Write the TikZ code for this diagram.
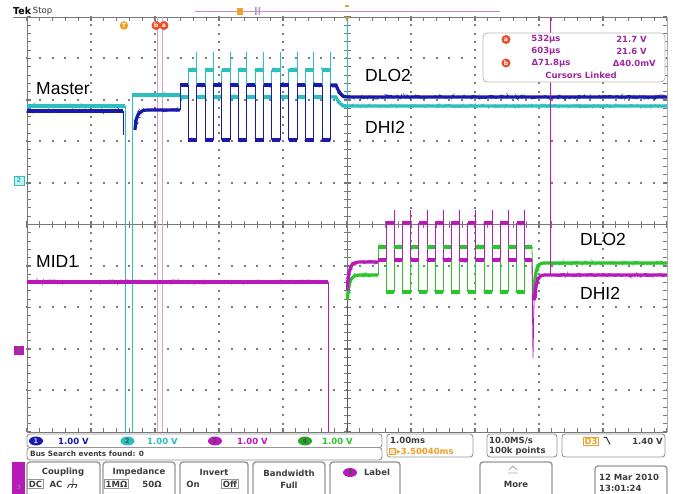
\documentclass[tikz,border=0pt]{standalone}
\usepackage{fontspec}
\setmainfont{Liberation Sans}
\newfontfamily\tekf{DejaVu Sans}
\usetikzlibrary{shapes.geometric,decorations.pathmorphing}
\definecolor{chA}{RGB}{25,25,170}
\definecolor{chB}{RGB}{45,190,190}
\definecolor{chC}{RGB}{185,25,185}
\definecolor{chD}{RGB}{45,195,45}
\definecolor{tekor}{RGB}{240,160,40}
\definecolor{tekred}{RGB}{232,80,40}
\definecolor{curp}{RGB}{215,155,215}
\definecolor{gridc}{RGB}{120,120,120}
\definecolor{dotc}{RGB}{125,125,125}
\definecolor{rdp}{RGB}{160,40,160}
\definecolor{btng}{RGB}{150,150,150}
\definecolor{txtg}{RGB}{60,60,60}
\newcommand\trc[2]{\draw[band,#1] #2; \draw[noise,#1] #2;}
\begin{document}
\begin{tikzpicture}[x=1pt,y=-1pt,
  band/.style={line width=3.2pt},
  noise/.style={line width=0.7pt,decorate,decoration={random steps,segment length=1.3pt,amplitude=2.1pt}},
  fine/.style={line width=0.8pt},
  lbl/.style={font=\fontsize{17.5}{18}\selectfont,anchor=west,inner sep=0pt},
  tb/.style={font=\tekf\bfseries\fontsize{8.5}{9}\selectfont,inner sep=0pt},
  bt/.style={font=\tekf\bfseries\fontsize{8.5}{9}\selectfont,inner sep=0pt,text=txtg},
  box/.style={draw=btng,line width=0.9pt,rounded corners=3pt,fill=white},
  btn/.style={draw=btng,line width=1.4pt,rounded corners=3pt,fill=white},
  mk/.style={circle,fill=tekred,text=white,inner sep=0pt,minimum size=9pt,font=\tekf\bfseries\fontsize{6}{6}\selectfont},
  oval/.style={ellipse,inner sep=0pt,minimum width=14pt,minimum height=9pt,font=\tekf\bfseries\fontsize{6.5}{7}\selectfont,text=black!70},
  dotv/.style={dotc,line width=2pt,dash pattern=on 2pt off 6.3pt},
  doth/.style={dotc,line width=2pt,dash pattern=on 2pt off 10.8pt},
  tickv/.style={gridc,dash pattern=on 1.1pt off 7.2pt},
  tickh/.style={gridc,dash pattern=on 1.1pt off 11.7pt},
]
\pgfmathsetseed{7}
\useasboundingbox (0,0) rectangle (673,494);
\fill[white] (0,0) rectangle (673,494);

% ---------------- graticule (loop-free) ----------------
\draw[dotv] (91,16) -- (91,432) (155,16) -- (155,432) (219,16) -- (219,432) (283,16) -- (283,432)
            (411,16) -- (411,432) (475,16) -- (475,432) (539,16) -- (539,432) (603,16) -- (603,432);
\draw[doth] (26,58.5) -- (667,58.5) (26,100) -- (667,100) (26,141.5) -- (667,141.5) (26,183) -- (667,183)
            (26,266) -- (667,266) (26,307.5) -- (667,307.5) (26,349) -- (667,349) (26,390.5) -- (667,390.5);
\draw[gridc,line width=0.8pt] (347,17) -- (347,432);
\draw[gridc,line width=0.8pt] (27,224.5) -- (667,224.5);
\draw[tickv,line width=7pt] (347,16.45) -- (347,433);
\draw[tickh,line width=7pt] (26.45,224.5) -- (668,224.5);
\draw[tickv,line width=4pt] (29,16.45) -- (29,433);
\draw[tickv,line width=4pt] (665,16.45) -- (665,433);
\draw[tickh,line width=4pt] (26.45,19) -- (668,19);
\draw[tickh,line width=4pt] (26.45,430) -- (668,430);
\draw[gridc,line width=0.9pt] (13,17) -- (667,17);
\draw[gridc,line width=0.9pt] (27,17) -- (27,432) -- (667,432);
\draw[gridc!60,line width=0.6pt] (667,17) -- (667,432);

% ---------------- header ----------------
\node[anchor=west,inner sep=0pt,font=\tekf\bfseries\fontsize{9.5}{10}\selectfont] (tek) at (13,11) {Tek};
\node[anchor=west,inner sep=0pt,font=\tekf\fontsize{8.5}{9}\selectfont,text=black!80] (stop) at (tek.east) {\,Stop};
\draw[curp!90!black,line width=0.7pt] (195,11.5) -- (500,11.5);
\fill[tekor] (237,8.5) rectangle (243,15.5);
\fill[curp!90!black] (255,7) rectangle (256.5,15) (258.5,7) rectangle (260,15);
\fill[tekor] (345,5.5) rectangle (349,7);
\fill[tekor] (344,17) -- (350,17) -- (347,21) -- cycle;
\node[circle,fill=tekor,inner sep=0pt,minimum size=8.5pt,text=white,font=\tekf\bfseries\fontsize{5.5}{6}\selectfont] (ctrig) at (124,25.5) {T};

% cursors
\draw[curp,line width=0.9pt] (157,17) -- (157,432);
\draw[curp,line width=0.9pt] (162,17) -- (162,432);
\node[mk] (cb) at (156,25.5) {b};
\node[mk] (ca) at (164,25.5) {a};

% ---------------- CH2 cyan (top) ----------------
\trc{chB}{(27,106) -- (125,106)}
\draw[fine,chB] (125,106) -- (125,432);
\draw[fine,chB] (132,432) -- (132,95);
\trc{chB}{(132,95) -- (180,95)}
\draw[fine,chB] (180,95) -- (180,97);
\foreach \k in {0,...,8} {
  \pgfmathsetmacro\a{180+16.7*\k}
  \pgfmathsetmacro\b{\a+8.35}
  \pgfmathsetmacro\c{\a+16.7}
  \trc{chB}{(\a,97) -- (\b,97)}
  \trc{chB}{(\b,70) -- (\c,70)}
  \draw[fine,chB] (\b,97) -- (\b,70);
  \draw[fine,chB] (\c,52) -- (\c,97);
}
\trc{chB}{(330.3,97) -- (336,97) .. controls (339,104) and (342,106) .. (347,106) -- (667,106)}
\draw[fine,chB] (347,106) -- (347,17);

% ---------------- CH1 blue (top) ----------------
\trc{chA}{(27,111) -- (123,111)}
\draw[fine,chA] (123,111) -- (123,135);
\trc{chA}{(135,130) .. controls (136,114) and (139,110) .. (148,110) -- (180,110)}
\draw[fine,chA] (180,110) -- (180,85);
\foreach \k in {0,...,8} {
  \pgfmathsetmacro\a{180+16.7*\k}
  \pgfmathsetmacro\b{\a+8.35}
  \pgfmathsetmacro\c{\a+16.7}
  \trc{chA}{(\a,85) -- (\b,85)}
  \trc{chA}{(\b,140) -- (\c,140)}
  \draw[fine,chA] (\b,85) -- (\b,140);
  \draw[fine,chA] (\c,140) -- (\c,85);
}
\trc{chA}{(330.3,85) -- (336,85) .. controls (339,93) and (342,97) .. (347,97) -- (667,97)}

% ---------------- CH3 / CH4 (bottom) ----------------
\trc{chC}{(27,282) -- (328,282)}
\draw[fine,chC] (328,282) -- (328,432);
\draw[fine,black!65] (347,432) -- (347,292);
\trc{chD}{(347.5,300) .. controls (348.5,280) and (351,275) .. (360,275) -- (378,275)}
\trc{chC}{(347.5,290) .. controls (348.5,266) and (351,262) .. (360,262) -- (378,262)}
\draw[fine,chD] (378,275) -- (378,247);
\foreach \k in {0,...,8} {
  \pgfmathsetmacro\a{378+16.3*\k}
  \pgfmathsetmacro\b{\a+8.15}
  \pgfmathsetmacro\c{\a+16.3}
  \trc{chD}{(\a,247) -- (\b,247)}
  \trc{chD}{(\b,292) -- (\c,292)}
  \draw[fine,chD] (\b,247) -- (\b,292);
  \draw[fine,chD] (\c,292) -- (\c,247);
  \trc{chC}{(\a,260) -- (\b,260)}
  \trc{chC}{(\b,223) -- (\c,223)}
  \draw[fine,chC] (\b,260) -- (\b,223);
  \draw[fine,chC] (\c,210) -- (\c,260);
}
\trc{chD}{(524.7,247) -- (532,247)}
\trc{chC}{(524.7,260) -- (532,260)}
\draw[fine,chD] (532,247) -- (533,300);
\trc{chD}{(533.5,300) .. controls (535,268) and (537,263) .. (544,263) -- (667,263)}
\draw[fine,chC] (532,260) -- (533,358) -- (534,300);
\trc{chC}{(534.5,300) .. controls (536,280) and (538,275) .. (545,275) -- (667,275)}
\draw[fine,chC] (550,275) -- (550,17);

% ---------------- trace labels ----------------
\node[lbl] (master) at (36,89) {Master};
\node[lbl] (dloa) at (365,75) {DLO2};
\node[lbl] (dhia) at (365,127) {DHI2};
\node[lbl] (mid) at (36,261) {MID1};
\node[lbl] (dlob) at (580,239) {DLO2};
\node[lbl] (dhib) at (580,293) {DHI2};

% ---------------- left channel markers ----------------
\fill[chB!25] (14,176) rectangle (24,185);
\draw[chB,line width=0.6pt] (14,176) rectangle (24,185);
\node[tb,text=chB,font=\tekf\bfseries\fontsize{6.5}{7}\selectfont] (m2) at (19,180.5) {2};
\fill[chC] (14,346) rectangle (24,355);
\node[tb,text=black!60,font=\tekf\bfseries\fontsize{6.5}{7}\selectfont] (m3) at (19,350.5) {3};

% ---------------- cursor readout ----------------
\draw[draw=gray!55,line width=0.9pt,rounded corners=4pt,fill=white] (483,33) rectangle (665,82);
\node[mk] (ra) at (506,39.5) {a};
\node[mk] (rb) at (506,63) {b};
\node[tb,text=rdp] (r1) at (546,39.5) {532µs};
\node[tb,text=rdp,anchor=east] (r2) at (647,39.5) {21.7 V};
\node[tb,text=rdp] (r3) at (546,51.5) {603µs};
\node[tb,text=rdp,anchor=east] (r4) at (647,51.5) {21.6 V};
\node[tb,text=rdp] (r5) at (551,63) {Δ71.8µs};
\node[tb,text=rdp,anchor=east] (r6) at (656,63) {Δ40.0mV};
\node[tb,text=rdp] (r7) at (581,75) {Cursors Linked};

% ---------------- bottom status ----------------
\draw[box] (27,434) rectangle (382,447.5);
\draw[box] (27,447.5) rectangle (382,460);
\node[oval,fill=chA,text=white!80!chA] (o1) at (36,441) {1};
\node[tb,text=chA,anchor=west] (v1) at (58,441) {1.00 V};
\node[oval,fill=chB] (o2) at (127.5,441) {2};
\node[tb,text=chB,anchor=west] (v2) at (147,441) {1.00 V};
\node[oval,fill=chC] (o3) at (215,441) {3};
\node[tb,text=chC,anchor=west] (v3) at (237,441) {1.00 V};
\node[oval,fill=chD!85!black] (o4) at (305,441) {4};
\node[tb,text=chD,anchor=west] (v4) at (322,441) {1.00 V};
\node[tb,text=txtg,anchor=west,font=\tekf\bfseries\fontsize{7.3}{8}\selectfont] (bus) at (30,454) {Bus Search events found: 0};

\draw[box] (387,434) rectangle (473,457);
\node[tb,text=txtg,anchor=west] (hs) at (390,440.5) {1.00ms};
\draw[tekor,fill=tekor!30,line width=0.5pt] (389.5,448) rectangle (395.5,454.5);
\node[tb,text=tekor,anchor=west] (tpos) at (396.5,451.5) {▸3.50040ms};
\draw[box] (487,434) rectangle (557,457);
\node[tb,text=txtg,anchor=west] (sr) at (489,440.5) {10.0MS/s};
\node[tb,text=txtg,anchor=west] (pts) at (489,451.5) {100k points};
\draw[box] (562,434) rectangle (665,457);
\node[tb,text=tekor,draw=tekor,line width=0.5pt,inner sep=0.8pt] (d3) at (591,441) {D3};
\draw[black!80,line width=1pt] (603.5,437.5) -- (606.5,437.5) -- (610,444.5);
\node[tb,text=txtg,anchor=east] (tl) at (663,441) {1.40 V};

% buttons
\fill[chC] (12,462) rectangle (25,494);
\node[tb,text=black!50,font=\tekf\bfseries\fontsize{6}{6}\selectfont] (tab3) at (19,487) {3};
\draw[btn] (27,462) rectangle (100,498);
\node[bt] (cpl) at (63,472) {Coupling};
\node[bt,draw=btng,line width=0.7pt,inner sep=1.2pt] (dc) at (35.5,484) {DC};
\node[bt] (ac) at (56,484) {AC};
\draw[txtg,line width=0.9pt] (73,478.5) -- (73,484.5) (69,484.5) -- (77,484.5) (69,484.5) -- (67.5,488) (73,484.5) -- (71.5,488) (77,484.5) -- (75.5,488);
\draw[btn] (103,462) rectangle (175,498);
\node[bt] (imp) at (139,472) {Impedance};
\node[bt,draw=btng,line width=0.7pt,inner sep=1.2pt] (one) at (116.5,484) {1MΩ};
\node[bt] (fifty) at (152,484) {50Ω};
\draw[btn] (180,462) rectangle (248,498);
\node[bt] (inv) at (214,472) {Invert};
\node[bt] (on) at (193,484) {On};
\node[bt,draw=btng,line width=0.7pt,inner sep=1.2pt] (off) at (230,484) {Off};
\draw[btn] (253,462) rectangle (325,498);
\node[bt] (bw) at (289,473) {Bandwidth};
\node[bt] (full) at (289,485) {Full};
\draw[btn] (330,462) rectangle (400,498);
\node[oval,fill=chC] (o5) at (350,472.5) {3};
\node[bt] (lab) at (377,472.5) {Label};
\draw[btn] (480,462) rectangle (552,498);
\draw[gray!70,line width=0.8pt] (509,470) -- (513,466) -- (517,470) (508,473) -- (518,473);
\node[bt] (more) at (516,484) {More};
\draw[btn] (595,466) rectangle (667,498);
\node[bt,anchor=west] (date) at (599,477) {12 Mar 2010};
\node[bt,anchor=west] (time) at (599,488) {13:01:24};
\end{tikzpicture}
\end{document}
